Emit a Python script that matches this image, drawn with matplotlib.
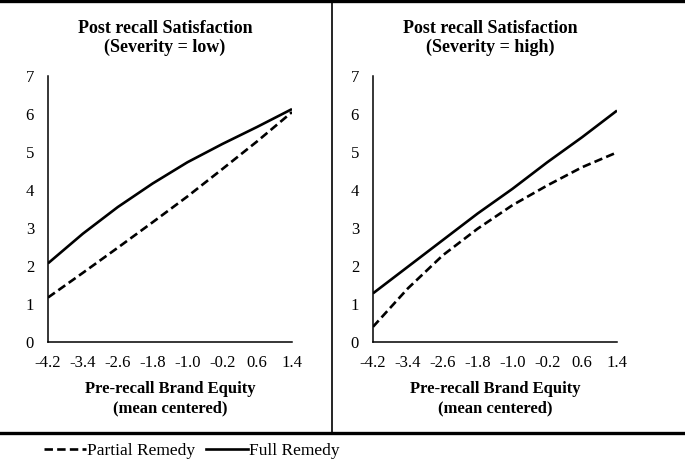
import matplotlib
matplotlib.use("Agg")
import matplotlib.pyplot as plt
from matplotlib.lines import Line2D

plt.rcParams['font.family'] = ['Liberation Serif', 'DejaVu Serif']

# pre-recall brand equity (mean centered)
x = [-4.2, -3.4, -2.6, -1.8, -1.0, -0.2, 0.6, 1.4]
xticklabels = ['-4.2', '-3.4', '-2.6', '-1.8', '-1.0', '-0.2', '0.6', '1.4']

# severity = low
low_partial = [1.17, 1.82, 2.48, 3.15, 3.83, 4.55, 5.28, 6.05]
low_full = [2.07, 2.85, 3.55, 4.17, 4.73, 5.21, 5.66, 6.13]

# severity = high
high_partial = [0.40, 1.41, 2.28, 2.98, 3.60, 4.12, 4.60, 4.99]
high_full = [1.28, 1.98, 2.68, 3.38, 4.03, 4.73, 5.39, 6.09]

titles = ['Post recall Satisfaction\n(Severity = low)',
          'Post recall Satisfaction\n(Severity = high)']
xlabel = 'Pre-recall Brand Equity\n(mean centered)'

W, H = 685, 461
fig = plt.figure(figsize=(W / 100, H / 100), dpi=100)

dash = (0, (3.2, 1.6))
lw = 1.9

panels = [(48, low_partial, low_full, 165), (373, high_partial, high_full, 490)]
for i, (left, part, full, tx) in enumerate(panels):
    ax = fig.add_axes([left / W, 1 - 342 / H, 244 / W, 266 / H])
    ax.plot(x, part, color='black', lw=lw, linestyle=dash)
    ax.plot(x, full, color='black', lw=lw, solid_capstyle='butt')
    ax.set_xlim(-4.2, 1.4)
    ax.set_ylim(0, 7)
    ax.set_xticks(x)
    ax.set_xticklabels(xticklabels)
    ax.set_yticks(range(8))
    ax.tick_params(length=0, labelsize=12)
    ax.tick_params(axis='y', pad=10)
    ax.tick_params(axis='x', pad=9)
    for s in ['top', 'right']:
        ax.spines[s].set_visible(False)
    for s in ['left', 'bottom']:
        ax.spines[s].set_linewidth(1.1)
    ax.set_xlabel(xlabel, fontsize=12, fontweight='bold', labelpad=7.5,
                  linespacing=1.3)
    fig.text(tx / W, 1 - 38 / H, titles[i], ha='center', va='center',
             fontsize=13, fontweight='bold', linespacing=1.2)

# frame lines
fig.add_artist(Line2D([0, 1], [1 - 1.5 / H, 1 - 1.5 / H], color='black', lw=2.4,
                      transform=fig.transFigure))
fig.add_artist(Line2D([0, 1], [1 - 433 / H, 1 - 433 / H], color='black', lw=2.4,
                      transform=fig.transFigure))
fig.add_artist(Line2D([332 / W, 332 / W], [1 - 433 / H, 1], color='black', lw=1.2,
                      transform=fig.transFigure))

handles = [Line2D([], [], color='black', lw=lw, linestyle=dash),
           Line2D([], [], color='black', lw=lw)]
fig.legend(handles, ['Partial Remedy', 'Full Remedy'], loc='center left',
           bbox_to_anchor=(44 / W, 1 - 451 / H), ncol=2, frameon=False,
           fontsize=12.5, handlelength=2.4, handletextpad=0.1,
           columnspacing=0.6, borderpad=0, borderaxespad=0)

fig.savefig('out.png', dpi=100)
